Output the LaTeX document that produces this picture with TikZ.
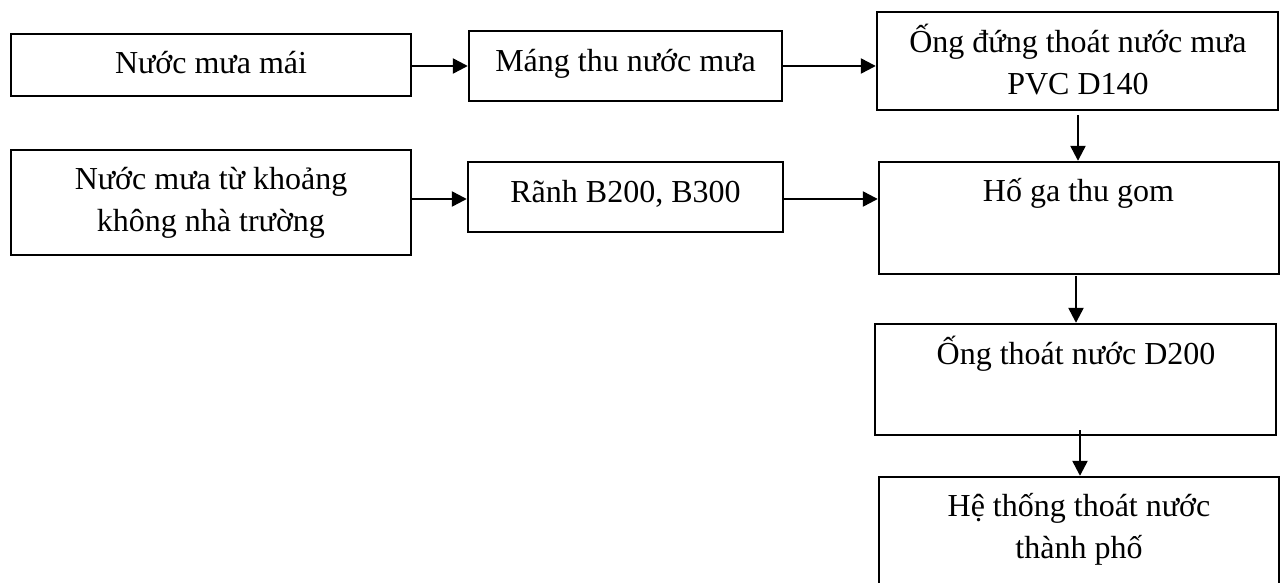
\documentclass[tikz,border=0pt]{standalone}
\usepackage{fontspec}
\setmainfont{Liberation Serif}
\usetikzlibrary{arrows.meta,fit}

\begin{document}
\begin{tikzpicture}[x=0.5pt,y=-0.5pt,
  box/.style={draw=black,line width=1.2pt,inner sep=0pt,rectangle},
  txt/.style={inner sep=0pt,align=center,font=\fontsize{16}{21}\selectfont},
  arr/.style={line width=1.2pt,-{Triangle[length=7.5pt,width=7.5pt]}}]
\useasboundingbox (0,0) rectangle (1282,583);

% boxes (corners in pixel units, y downward)
\node[box,fit={(11,34)(411,96)}]    (roof)   {};
\node[box,fit={(469,31)(782,101)}]  (gutter) {};
\node[box,fit={(877,12)(1278,110)}] (pipe)   {};
\node[box,fit={(879,162)(1279,274)}](pit)    {};
\node[box,fit={(11,150)(411,255)}]  (yard)   {};
\node[box,fit={(468,162)(783,232)}] (ditch)  {};
\node[box,fit={(875,324)(1276,435)}](drain)  {};
\node[box,fit={(879,477)(1279,620)}](city)   {};

% labels
\node[txt] (troof)   at (211,65.6)   {\strut Nước mưa mái};
\node[txt] (tgutter) at (625.5,63.6) {\strut Máng thu nước mưa};
\node[txt] (tpipe)   at (1078,65)    {\strut Ống đứng thoát nước mưa\\\strut PVC D140};
\node[txt] (tpit)    at (1078.5,193.6) {\strut Hố ga thu gom};
\node[txt] (tyard)   at (211,202.6)  {\strut Nước mưa từ khoảng\\\strut không nhà trường};
\node[txt] (tditch)  at (625.5,194.6){\strut Rãnh B200, B300};
\node[txt] (tdrain)  at (1076,356.6) {\strut Ống thoát nước D200};
\node[txt] (tcity)   at (1079,529)   {\strut Hệ thống thoát nước\\\strut thành phố};

% connectors
\coordinate (r1) at (411,66);
\coordinate (r2) at (782,66);
\coordinate (r3) at (411,199);
\coordinate (r4) at (783,199);
\coordinate (d1) at (1078,115);
\coordinate (d2) at (1076,276);
\coordinate (d3) at (1080,430);

\draw[arr] (r1) -- (r1 -| gutter.west);
\draw[arr] (r2) -- (r2 -| pipe.west);
\draw[arr] (r3) -- (r3 -| ditch.west);
\draw[arr] (r4) -- (r4 -| pit.west);
\draw[arr] (d1) -- (d1 |- pit.north);
\draw[arr] (d2) -- (d2 |- drain.north);
\draw[arr] (d3) -- (d3 |- city.north);
\end{tikzpicture}
\end{document}
